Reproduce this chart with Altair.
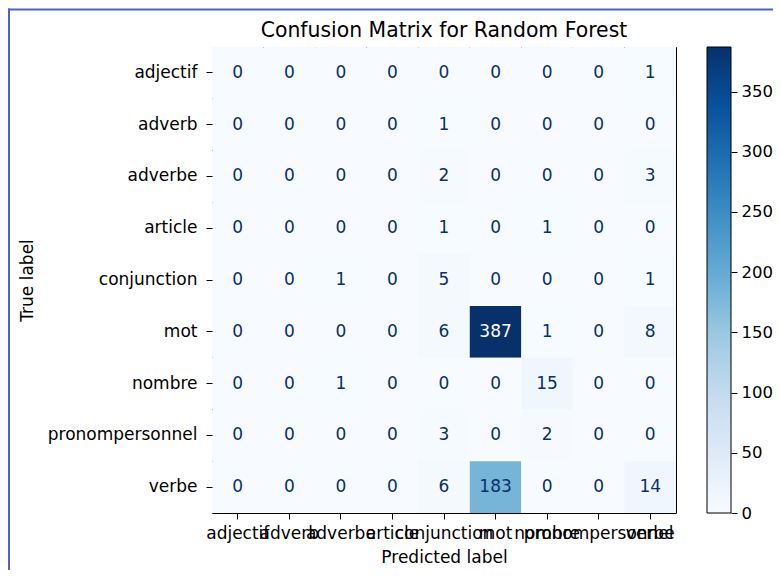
import altair as alt
import pandas as pd

title_text = "Confusion Matrix for Random Forest"
labels = ["adjectif", "adverb", "adverbe", "article", "conjunction",
          "mot", "nombre", "pronompersonnel", "verbe"]
matrix = [
    [0, 0, 0, 0, 0, 0, 0, 0, 1],
    [0, 0, 0, 0, 1, 0, 0, 0, 0],
    [0, 0, 0, 0, 2, 0, 0, 0, 3],
    [0, 0, 0, 0, 1, 0, 1, 0, 0],
    [0, 0, 1, 0, 5, 0, 0, 0, 1],
    [0, 0, 0, 0, 6, 387, 1, 0, 8],
    [0, 0, 1, 0, 0, 0, 15, 0, 0],
    [0, 0, 0, 0, 3, 0, 2, 0, 0],
    [0, 0, 0, 0, 6, 183, 0, 0, 14],
]
blues = ["#f7fbff", "#deebf7", "#c6dbef", "#9ecae1", "#6baed6",
         "#4292c6", "#2171b5", "#08519c", "#08306b"]
colorbar_ticks = [0, 50, 100, 150, 200, 250, 300, 350]

rows = []
for i, t in enumerate(labels):
    for j, p in enumerate(labels):
        rows.append({"true": t, "pred": p, "value": matrix[i][j]})
df = pd.DataFrame(rows)

vmax = max(max(r) for r in matrix)
vmin = min(min(r) for r in matrix)
thresh = (vmax + vmin) / 2
n = len(blues) - 1
domain = [vmin + (vmax - vmin) * k / n for k in range(len(blues))]

FONT = "DejaVu Sans"

x_axis = alt.Axis(title="Predicted label", orient="bottom", labelAngle=0,
                  labelOverlap=False, labelBound=False, labelFlush=False,
                  labelLimit=0, domain=False, grid=False, ticks=True,
                  tickSize=6, labelPadding=6,
                  titleX=232, titleY=49, titleBaseline="alphabetic",
                  titleAlign="center", titleAnchor="middle")
y_axis = alt.Axis(title="True label", orient="left", labelOverlap=False,
                  labelBound=False, labelFlush=False, labelLimit=0,
                  domain=False, grid=False, ticks=True, tickSize=6,
                  labelPadding=9, titleAngle=270, titleX=-185, titleY=233,
                  titleBaseline="middle", titleAlign="center",
                  titleAnchor="middle")
band = alt.Scale(paddingInner=0, paddingOuter=0)

heat = alt.Chart(df).mark_rect().encode(
    x=alt.X("pred:N", sort=labels, scale=band, axis=x_axis),
    y=alt.Y("true:N", sort=labels, scale=band, axis=y_axis),
    color=alt.Color("value:Q",
                    scale=alt.Scale(domain=domain, range=blues, interpolate="rgb"),
                    legend=None),
)
text = alt.Chart(df).mark_text(fontSize=17, font=FONT).encode(
    x=alt.X("pred:N", sort=labels, scale=band, axis=x_axis),
    y=alt.Y("true:N", sort=labels, scale=band, axis=y_axis),
    text="value:Q",
    color=alt.condition(alt.datum.value >= thresh, alt.value("white"), alt.value("#08306b")),
)

cbar_df = pd.DataFrame({"lo": [vmin], "hi": [vmax]})
grad = alt.LinearGradient(
    gradient="linear",
    stops=[alt.GradientStop(offset=k / n, color=c) for k, c in enumerate(blues)],
    x1=0, x2=0, y1=1, y2=0,
)
cbar = alt.Chart(cbar_df).mark_rect(fill=grad, stroke="black", strokeWidth=1).encode(
    x=alt.value(495), x2=alt.value(519),
    y=alt.Y("lo:Q", scale=alt.Scale(domain=[vmin, vmax], nice=False, zero=False),
            axis=alt.Axis(orient="right", offset=55, values=colorbar_ticks,
                          tickSize=6, domain=False, grid=False, title=None,
                          labelPadding=4, labelFontSize=16.5)),
    y2="hi:Q",
)

# chart title, drawn as text above the matrix
title_mark = alt.Chart(cbar_df).mark_text(
    text=title_text, font=FONT, fontSize=20.4, color="black",
    align="center", baseline="alphabetic",
).encode(x=alt.value(232), y=alt.value(-10.3))

# screenshot frame (decoration along the top and left edges)
frame_color = "#4f63c6"
frame_top = alt.Chart(cbar_df).mark_rule(color=frame_color, strokeWidth=2).encode(
    x=alt.value(-204), x2=alt.value(561), y=alt.value(-37.5)
)
frame_left = alt.Chart(cbar_df).mark_rule(color=frame_color, strokeWidth=2).encode(
    x=alt.value(-203), y=alt.value(-38.5), y2=alt.value(523)
)

chart = alt.layer(
    alt.layer(heat, text), cbar, title_mark, frame_top, frame_left
).resolve_scale(
    y="independent"
).properties(
    width=464, height=466,
    autosize=alt.AutoSizeParams(type="none"),
    padding={"left": 204, "top": 39, "right": 97, "bottom": 57},
    background="white",
).configure_view(
    stroke="black", strokeWidth=1, fill="#f7fbff"
).configure_axis(
    labelFont=FONT, labelFontSize=17, labelColor="black",
    titleFont=FONT, titleFontSize=17, titleFontWeight="normal", titleColor="black",
    tickColor="black", tickWidth=1,
)

chart.save("out.html", embed_options={"renderer": "svg", "actions": False})
